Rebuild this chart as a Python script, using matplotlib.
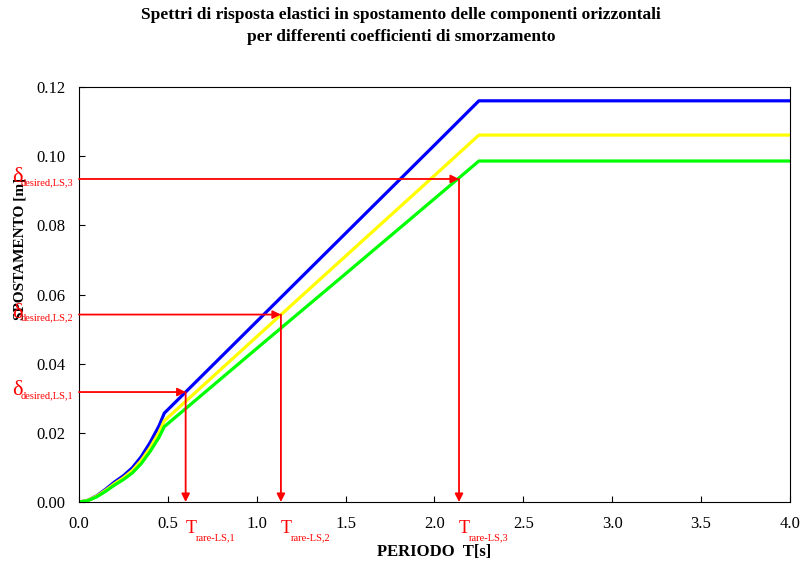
import numpy as np
import matplotlib
matplotlib.use('Agg')
from matplotlib import pyplot as plt

plt.rcParams['font.family'] = 'Liberation Serif'

# periodo [s] and spostamento [m] for the three damping coefficients
periodo = [0.0, 0.05, 0.10, 0.15, 0.20, 0.25, 0.30, 0.35, 0.40, 0.45, 0.48,
           0.60, 1.00, 1.50, 2.00, 2.25, 3.00, 4.00]
sd_blu = [0.0, 0.0005, 0.0018, 0.0037, 0.0058, 0.0076, 0.0099, 0.0131, 0.0172,
          0.0220, 0.0257, 0.0318, 0.0522, 0.0777, 0.1032, 0.1160, 0.1160, 0.1160]
sd_giallo = [0.0, 0.0005, 0.0017, 0.0034, 0.0053, 0.0070, 0.0091, 0.0120, 0.0157,
             0.0201, 0.0235, 0.0291, 0.0478, 0.0711, 0.0944, 0.1061, 0.1061, 0.1061]
sd_verde = [0.0, 0.0004, 0.0015, 0.0031, 0.0049, 0.0065, 0.0084, 0.0111, 0.0146,
            0.0187, 0.0218, 0.0270, 0.0444, 0.0660, 0.0877, 0.0986, 0.0986, 0.0986]

# target displacements and the periods where they meet the spectra
t_rare = [0.60, 1.136, 2.138]
d_desired = [0.0318, 0.0542, 0.0934]
sub_d = ['desired,LS,1', 'desired,LS,2', 'desired,LS,3']
sub_t = ['rare-LS,1', 'rare-LS,2', 'rare-LS,3']

fig = plt.figure(figsize=(8.02, 5.63), dpi=100)
ax = fig.add_axes([0.0985, 0.1083, 0.8865, 0.7372])

ax.plot(periodo, sd_blu, color='#0000ff', lw=2.3)
ax.plot(periodo, sd_giallo, color='#ffff00', lw=2.3)
ax.plot(periodo, sd_verde, color='#00ff00', lw=2.3)

for t, d in zip(t_rare, d_desired):
    ax.annotate('', xy=(t, d), xytext=(0, d),
                arrowprops=dict(arrowstyle='-|>', color='red', lw=1.3,
                                mutation_scale=12, shrinkA=0, shrinkB=0))
    ax.annotate('', xy=(t, 0), xytext=(t, d),
                arrowprops=dict(arrowstyle='-|>', color='red', lw=1.3,
                                mutation_scale=12, shrinkA=0, shrinkB=0))

# delta labels left of the axis, T labels under it (symbol + smaller subscript)
kw = dict(textcoords='offset pixels', color='red', va='baseline', ha='left',
          annotation_clip=False)
for d, s in zip(d_desired, sub_d):
    ax.annotate('δ', xy=(0, d), xytext=(-67, -3), fontsize=16, **kw)
    ax.annotate(s, xy=(0, d), xytext=(-58, -6), fontsize=7.5, **kw)
for t, s in zip(t_rare, sub_t):
    ax.annotate('T', xy=(t, 0), xytext=(0, -31), fontsize=13, **kw)
    ax.annotate(s, xy=(t, 0), xytext=(10, -38), fontsize=7.5, **kw)

ax.set_xlim(0, 4.0)
ax.set_ylim(0, 0.12)
ax.set_xticks(np.arange(0, 4.01, 0.5))
ax.set_yticks(np.arange(0, 0.121, 0.02))
ax.xaxis.set_major_formatter(matplotlib.ticker.FormatStrFormatter('%.1f'))
ax.yaxis.set_major_formatter(matplotlib.ticker.FormatStrFormatter('%.2f'))
ax.tick_params(direction='in', length=4, labelsize=12, top=False, right=False)
ax.tick_params(axis='x', pad=10)
ax.tick_params(axis='y', pad=10)

ax.set_xlabel('PERIODO  T[s]', fontsize=12, fontweight='bold')
ax.set_ylabel('SPOSTAMENTO [m]', fontsize=11, fontweight='bold')
ax.yaxis.set_label_coords(-0.074, 0.61)
ax.xaxis.set_label_coords(0.5, -0.1)

fig.suptitle('Spettri di risposta elastici in spostamento delle componenti orizzontali\n'
             'per differenti coefficienti di smorzamento',
             fontsize=12.5, fontweight='bold', y=0.987, linespacing=1.45)

fig.savefig('out.png', dpi=100)
